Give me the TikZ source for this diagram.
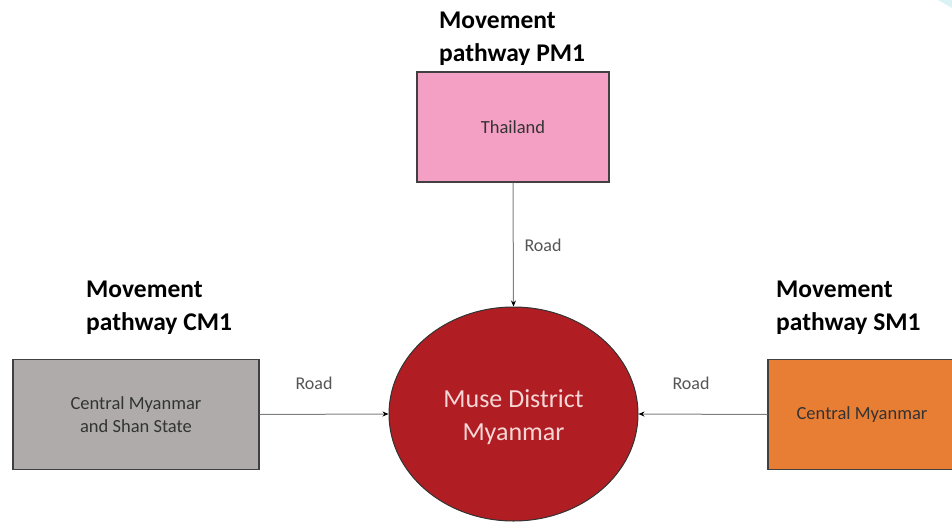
\documentclass[tikz,border=0pt]{standalone}
\usepackage{fontspec}
\setmainfont{Carlito}
\usetikzlibrary{shapes.geometric,arrows.meta}

\definecolor{pinkfill}{RGB}{244,160,196}
\definecolor{greyfill}{RGB}{175,171,171}
\definecolor{orangefill}{RGB}{232,125,52}
\definecolor{redfill}{RGB}{176,30,35}
\definecolor{paletext}{RGB}{246,214,214}
\definecolor{boxline}{RGB}{64,64,64}
\definecolor{linkgrey}{RGB}{128,128,128}
\definecolor{labelgrey}{RGB}{85,85,85}
\definecolor{cornercyan}{RGB}{218,242,244}

\tikzset{
  placebox/.style={draw=boxline, line width=1.2pt, rectangle,
    minimum height=110pt, inner sep=0pt, align=center,
    font=\fontsize{18.5}{22.5}\selectfont, text=black!80},
  hub/.style={draw=black!80, line width=1pt, ellipse, fill=redfill,
    minimum width=249pt, minimum height=214pt, inner sep=0pt},
  hubtext/.style={inner sep=0pt, align=center, text=paletext,
    font=\fontsize{26}{33}\selectfont},
  pathtitle/.style={anchor=north west, inner sep=0pt, align=left,
    font=\bfseries\fontsize{25.5}{33}\selectfont},
  roadlabel/.style={inner sep=0pt, text=labelgrey,
    font=\fontsize{18}{22}\selectfont},
  link/.style={draw=linkgrey, line width=1pt,
    -{Stealth[length=6pt,width=5pt,color=black]}}
}

\begin{document}
\begin{tikzpicture}[x=1pt,y=-1pt]
  \useasboundingbox (0,0) rectangle (952,524);
  \clip (0,0) rectangle (952,524);

  % faint corner accent
  \fill[cornercyan] (938,0) -- (952,0) -- (952,8) -- cycle;

  % origin places
  \node[placebox, fill=pinkfill, minimum width=192pt] (thai) at (513,127) {\raisebox{-1pt}{Thailand}};
  \node[placebox, fill=greyfill, minimum width=246pt] (cm) at (136,414.5) {Central Myanmar\\and Shan State};
  \node[placebox, fill=orangefill, minimum width=188pt] (sm) at (862,414.5) {\raisebox{-2.5pt}{Central Myanmar}};

  % destination
  \node[hub] (muse) at (513.5,414) {};
  \node[hubtext] (musetext) at ([yshift=-3pt]muse.center) {Muse District\\Myanmar};

  % pathway titles
  \node[pathtitle] (tpm) at (439,12) {Movement\\pathway PM1};
  \node[pathtitle] (tcm) at (86,281) {Movement\\pathway CM1};
  \node[pathtitle] (tsm) at (776,281) {Movement\\pathway SM1};

  % road links
  \draw[link] (thai.south) -- (muse.north);
  \draw[link] (cm.east) -- (muse.west);
  \draw[link] (sm.west) -- (muse.east);

  \node[roadlabel] (rpm) at (543,245) {Road};
  \node[roadlabel] (rcm) at (314,383) {Road};
  \node[roadlabel] (rsm) at (691,383) {Road};
\end{tikzpicture}
\end{document}
